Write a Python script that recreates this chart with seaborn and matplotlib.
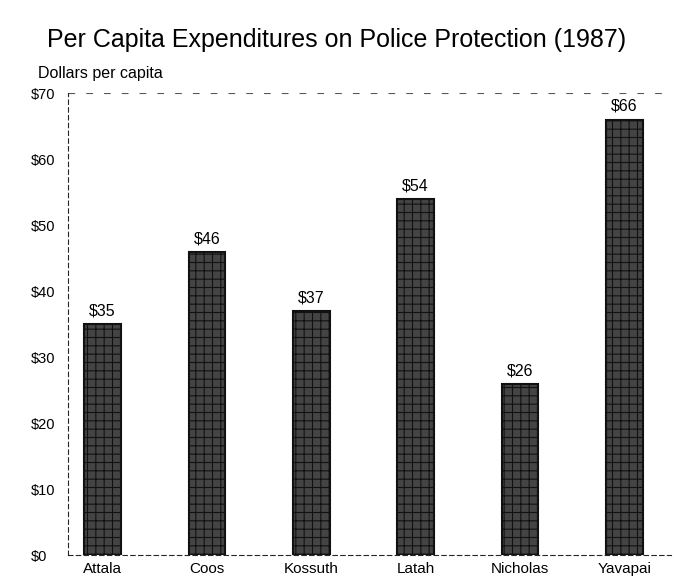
import pandas as pd
import seaborn as sns
import matplotlib.pyplot as plt

sns.set_style("white")
plt.rcParams['font.family'] = ['Liberation Sans', 'DejaVu Sans']
plt.rcParams['hatch.color'] = '#c8c8c8'
plt.rcParams['hatch.linewidth'] = 0.8

counties = ['Attala', 'Coos', 'Kossuth', 'Latah', 'Nicholas', 'Yavapai']
dollars = [35, 46, 37, 54, 26, 66]
yticks = [0, 10, 20, 30, 40, 50, 60, 70]

df = pd.DataFrame({'county': counties, 'dollars': dollars})

fig = plt.figure(figsize=(6.74, 5.82), dpi=100)
ax = fig.add_axes([0.101, 0.046, 0.895, 0.794])

sns.barplot(x='county', y='dollars', data=df, color='#444444', width=0.35,
            edgecolor='#111111', linewidth=1.5, hatch='++', ax=ax)
for p in ax.patches:
    p.set_facecolor('#444444')

ax.bar_label(ax.containers[0], labels=['$%d' % v for v in dollars],
             padding=4, fontsize=11.5, color='black')

ax.set_ylim(0, 70)
ax.set_xlim(-0.33, 5.45)
ax.set_yticks(yticks)
ax.set_yticklabels(['$%d' % v for v in yticks], fontsize=10.5, color='black')
ax.tick_params(axis='x', labelsize=11, labelcolor='black', length=3, pad=2)
ax.tick_params(axis='y', length=3, pad=24)
for lbl in ax.get_yticklabels():
    lbl.set_horizontalalignment('left')
ax.set_xlabel('')
ax.set_ylabel('')

sns.despine(ax=ax)
for side in ['left', 'bottom']:
    ax.spines[side].set_linestyle((0, (4, 3)))
    ax.spines[side].set_linewidth(0.8)
ax.axhline(70, color='#555555', linewidth=0.8, linestyle=(0, (6, 10)))

fig.text(0.5, 0.931, 'Per Capita Expenditures on Police Protection (1987)',
         ha='center', va='center', fontsize=18, color='black')
fig.text(0.056, 0.866, 'Dollars per capita', fontsize=11.5, color='black')

fig.savefig('out.png', dpi=100)
